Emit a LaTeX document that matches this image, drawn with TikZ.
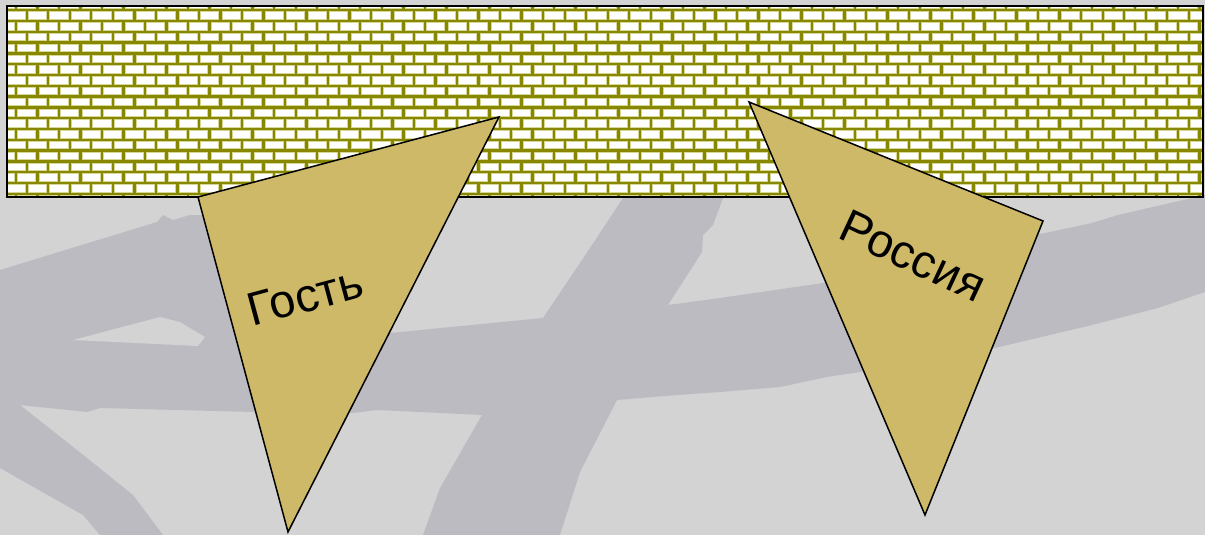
\documentclass[tikz,border=0pt]{standalone}
\usepackage{fontspec}
\setmainfont{Liberation Sans}
\definecolor{bglight}{RGB}{211,211,211}
\definecolor{bgdark}{RGB}{188,187,194}
\definecolor{flagfill}{RGB}{206,185,104}
\definecolor{mortar}{RGB}{136,136,0}
\definecolor{brickedge}{RGB}{214,214,150}
\tikzset{
  shadow/.style={fill=bgdark},
  gap/.style={fill=bglight},
  brick/.style={fill=white, draw=brickedge, line width=1pt},
  flag/.style={fill=flagfill, draw=black, line width=1.5pt, line join=miter},
  flaglabel/.style={font=\fontsize{47}{56}\selectfont, inner sep=0pt}
}
\begin{document}
\begin{tikzpicture}[x=1pt,y=-1pt]
\useasboundingbox (0,0) rectangle (1205,535);
% backdrop
\fill[bglight] (0,0) rectangle (1205,535);
\fill[shadow] (0,270) -- (157,222) -- (163,215) -- (173,220) -- (190,215)
  -- (215,215) -- (390,333) -- (543,318) -- (590,248) -- (623,198)
  -- (623,190) -- (725,190) -- (723,198) -- (713,225) -- (703,235)
  -- (702,252) -- (668,305) -- (720,298) -- (823,283) -- (1045,233)
  -- (1092,223) -- (1118,215) -- (1205,195) -- (1205,292) -- (1158,308)
  -- (1092,325) -- (995,348) -- (860,372) -- (827,377) -- (780,387)
  -- (720,392) -- (677,395) -- (617,400) -- (580,472) -- (560,535)
  -- (423,535) -- (440,488) -- (482,415) -- (377,410) -- (353,413)
  -- (253,412) -- (100,408) -- (87,412) -- (20,405) -- (87,458)
  -- (133,495) -- (163,535) -- (100,535) -- (83,515) -- (0,468) -- cycle;
\fill[gap] (73,340) -- (160,317) -- (180,322) -- (205,337) -- (198,346) -- cycle;
% brick wall
\begin{scope}
  \clip (7,6) rectangle (1203,197);
  \fill[mortar] (7,6) rectangle (1203,197);
  \foreach \k in {-1,...,17}{
    \pgfmathsetmacro{\ya}{10.2+10.8*\k+1.7}
    \pgfmathsetmacro{\yb}{10.2+10.8*(\k+1)-1.7}
    \pgfmathsetmacro{\sh}{mod(\k+2,2)*10.76}
    \foreach \j in {-1,...,56}{
      \pgfmathsetmacro{\xa}{26.7+21.52*\j-\sh+1.7}
      \pgfmathsetmacro{\xb}{\xa+21.52-3.4}
      \filldraw[brick] (\xa,\ya) rectangle (\xb,\yb);
    }
  }
\end{scope}
\draw[line width=1.8pt] (7,6) rectangle (1203,197);
% pennants
\filldraw[flag] (198,197) -- (499,117) -- (288,532) -- cycle;
\filldraw[flag] (749,102) -- (1043,221) -- (925,515) -- cycle;
\node[flaglabel, rotate=15] (guest) at (305,296) {Гость};
\node[flaglabel, rotate=-25] (russia) at (913,256) {Россия};
\end{tikzpicture}
\end{document}
